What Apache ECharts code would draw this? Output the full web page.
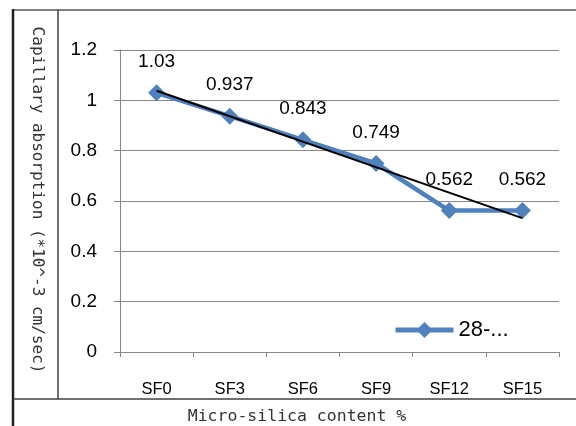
<!DOCTYPE html>
<html>
<head>
<meta charset="utf-8">
<script src="https://cdn.jsdelivr.net/npm/echarts@6/dist/echarts.min.js"></script>
<style>
html,body{margin:0;padding:0;background:#fff;}
#c{width:576px;height:426px;}
</style>
</head>
<body>
<div id="c"></div>
<script>
// ---- data ----
var categories = ['SF0', 'SF3', 'SF6', 'SF9', 'SF12', 'SF15'];
var absorption = [1.03, 0.937, 0.843, 0.749, 0.562, 0.562];
var seriesName = '28-...';
// linear trendline, read at its two ends (SF0 and SF15)
var trendEnds = [1.038, 0.532];
var yTicks = { min: 0, max: 1.2, interval: 0.2 };
var yTitle = 'Capillary absorption (*10^-3 cm/sec)';
var xTitle = 'Micro-silica content %';

var trendData = categories.map(function (c, i) {
  if (i === 0) return trendEnds[0];
  if (i === categories.length - 1) return trendEnds[1];
  return null;
});

var chart = echarts.init(document.getElementById('c'), null, { renderer: 'canvas' });
var frameColor = '#404040';
var gridColor = '#868686';

chart.setOption({
  animation: false,
  backgroundColor: '#ffffff',
  grid: { left: 120, right: 17, top: 50, bottom: 74, containLabel: false },
  xAxis: {
    type: 'category',
    data: categories,
    boundaryGap: true,
    axisLine: { lineStyle: { color: gridColor, width: 1 } },
    axisTick: { show: true, alignWithLabel: false, length: 5, lineStyle: { color: gridColor } },
    axisLabel: { color: '#000', fontFamily: 'Liberation Sans', fontSize: 16.5, margin: 29 },
    splitLine: { show: false }
  },
  yAxis: {
    type: 'value',
    min: yTicks.min, max: yTicks.max, interval: yTicks.interval,
    axisLine: { show: true, lineStyle: { color: gridColor, width: 1 } },
    axisTick: { show: true, length: 6, lineStyle: { color: gridColor } },
    axisLabel: { color: '#000', fontFamily: 'Liberation Sans', fontSize: 19, margin: 23 },
    splitLine: { show: true, lineStyle: { color: gridColor, width: 1 } }
  },
  legend: {
    data: [seriesName],
    left: 393, top: 319,
    padding: 0,
    itemWidth: 58, itemHeight: 20,
    itemGap: 4,
    lineStyle: { width: 5 },
    textStyle: { color: '#000', fontFamily: 'Liberation Sans', fontSize: 22 }
  },
  series: [
    {
      name: seriesName,
      type: 'line',
      data: absorption,
      symbol: 'diamond',
      symbolSize: 17,
      itemStyle: { color: '#4F81BD' },
      lineStyle: { color: '#4F81BD', width: 4.5 },
      label: {
        show: true, position: 'top', distance: 13,
        color: '#000', fontFamily: 'Liberation Sans', fontSize: 19
      },
      z: 2
    },
    {
      name: 'trend',
      type: 'line',
      data: trendData,
      connectNulls: true,
      symbol: 'none',
      lineStyle: { color: '#000', width: 2 },
      z: 3,
      silent: true
    }
  ],
  graphic: [
    { type: 'line', shape: { x1: 13, y1: 10, x2: 576, y2: 10 }, style: { stroke: '#808080', lineWidth: 2 } },
    { type: 'line', shape: { x1: 13, y1: 9, x2: 13, y2: 426 }, style: { stroke: '#202020', lineWidth: 2.5 } },
    { type: 'line', shape: { x1: 58, y1: 10, x2: 58, y2: 399 }, style: { stroke: frameColor, lineWidth: 1.5 } },
    { type: 'line', shape: { x1: 13, y1: 399, x2: 576, y2: 399 }, style: { stroke: frameColor, lineWidth: 1.5 } },
    {
      type: 'text', x: 37, y: 200, rotation: -Math.PI / 2,
      style: {
        text: yTitle, fill: '#333', fontFamily: 'DejaVu Sans Mono', fontSize: 16,
        textAlign: 'center', textVerticalAlign: 'middle', align: 'center', verticalAlign: 'middle'
      }
    },
    {
      type: 'text', x: 297, y: 417,
      style: {
        text: xTitle, fill: '#333', fontFamily: 'DejaVu Sans Mono', fontSize: 16.5,
        textAlign: 'center', textVerticalAlign: 'middle', align: 'center', verticalAlign: 'middle'
      }
    }
  ]
});
</script>
</body>
</html>
